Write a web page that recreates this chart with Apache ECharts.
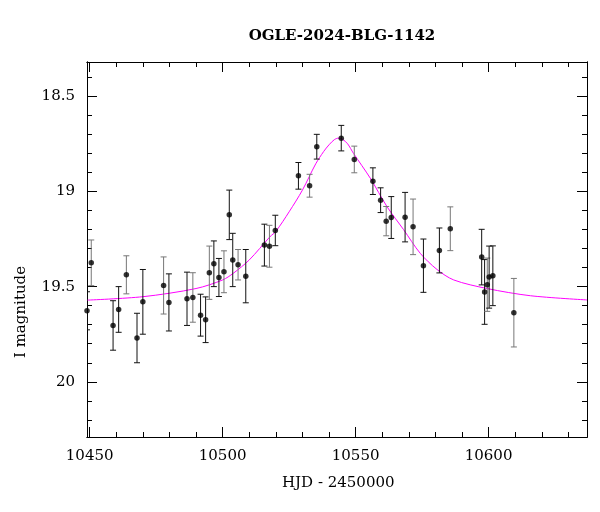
<!DOCTYPE html>
<html><head><meta charset="utf-8">
<script src="https://cdn.jsdelivr.net/npm/echarts@6/dist/echarts.min.js"></script>
<style>html,body{margin:0;padding:0;background:#fff}#c{width:600px;height:512px}</style>
</head><body><div id="c"></div>
<script>
const hjd = [10449,10450.6,10458.8,10460.9,10463.8,10467.8,10470,10477.8,10479.8,10486.6,10488.8,10491.7,10493.6,10495,10496.7,10498.6,10500.5,10502.5,10503.8,10505.8,10508.7,10515.7,10517.6,10519.8,10528.5,10532.7,10535.4,10544.6,10549.5,10556.5,10559.4,10561.5,10563.4,10568.6,10571.6,10575.5,10581.5,10585.6,10597.4,10598.5,10599.5,10600.2,10601.6,10609.5];
const mag = [19.627,19.375,19.704,19.62,19.438,19.77,19.58,19.494,19.583,19.564,19.557,19.65,19.674,19.427,19.38,19.452,19.422,19.123,19.36,19.385,19.445,19.282,19.288,19.205,18.918,18.97,18.765,18.72,18.832,18.946,19.046,19.156,19.137,19.135,19.186,19.39,19.31,19.196,19.345,19.528,19.49,19.45,19.443,19.637];
const magErr = [0.1,0.12,0.13,0.12,0.1,0.13,0.17,0.15,0.15,0.14,0.13,0.11,0.12,0.14,0.12,0.1,0.11,0.13,0.14,0.08,0.14,0.11,0.11,0.08,0.07,0.06,0.065,0.067,0.07,0.07,0.065,0.077,0.11,0.13,0.146,0.14,0.118,0.115,0.146,0.17,0.14,0.163,0.157,0.18];
const modelT = [10449,10470,10490,10500,10504,10510,10517.8,10520,10525,10530,10535,10538,10540,10542,10543.5,10545,10547,10549.2,10555.5,10561.8,10568,10574.3,10580.6,10586.9,10599.4,10615.8,10637];
const modelMag = [19.571,19.553,19.51,19.465,19.43,19.36,19.238,19.21,19.107,18.993,18.855,18.79,18.755,18.728,18.72,18.725,18.75,18.80,18.93,19.08,19.20,19.325,19.41,19.465,19.51,19.548,19.57];
const xMajor = [10450,10500,10550,10600];
const xMinor = [10450,10460,10470,10480,10490,10500,10510,10520,10530,10540,10550,10560,10570,10580,10590,10600,10610,10620,10630];
const yMajor = [18.5,19,19.5,20];
const yMinor = [18.4,18.5,18.6,18.7,18.8,18.9,19,19.1,19.2,19.3,19.4,19.5,19.6,19.7,19.8,19.9,20,20.1,20.2];
const XMIN=10449, XMAX=10637, YMIN=18.32, YMAX=20.29;
const font = "DejaVu Serif";
function xa(pos, vals, len, labels){
  return {type:'value',position:pos,min:XMIN,max:XMAX,splitLine:{show:false},
    axisLine:{show:true,onZero:false,lineStyle:{color:'#000',width:1}},
    axisTick:{show:true,inside:true,length:len,customValues:vals,lineStyle:{color:'#000'}},
    axisLabel:{show:labels,customValues:vals,color:'#000',fontFamily:font,fontSize:15,margin:12,
      formatter:v=>String(v)}};
}
function ya(pos, vals, len, labels){
  return {type:'value',position:pos,inverse:true,min:YMIN,max:YMAX,splitLine:{show:false},
    axisLine:{show:true,onZero:false,lineStyle:{color:'#000',width:1}},
    axisTick:{show:true,inside:true,length:len,customValues:vals,lineStyle:{color:'#000'}},
    axisLabel:{show:labels,customValues:vals,color:'#000',fontFamily:font,fontSize:15,margin:12,
      formatter:v=>String(v)}};
}
const chart = echarts.init(document.getElementById('c'));
const pts = hjd.map((t,i)=>[t,mag[i],magErr[i]]);
chart.setOption({
  animation:false,
  title:{text:'OGLE-2024-BLG-1142',left:337,top:24,textAlign:'center',
    textStyle:{fontFamily:font,fontSize:15,fontWeight:'bold',color:'#000'}},
  grid:{left:87,right:13,top:62,bottom:75},
  xAxis:[xa('bottom',xMajor,10,true),xa('bottom',xMinor,5,false),xa('top',xMajor,10,false),xa('top',xMinor,5,false)],
  yAxis:[ya('left',yMajor,10,true),ya('left',yMinor,5,false),ya('right',yMajor,10,false),ya('right',yMinor,5,false)],
  graphic:[
    {type:'text',left:282,top:476,style:{text:'HJD - 2450000',font:'15px "DejaVu Serif"',fill:'#000'}},
    {type:'text',rotation:Math.PI/2,x:14,y:312,style:{text:'I magnitude',font:'15px "DejaVu Serif"',fill:'#000',textAlign:'center',textVerticalAlign:'top'}}
  ],
  series:[
    {type:'line',data:modelT.map((t,i)=>[t,modelMag[i]]),smooth:0.3,showSymbol:false,
      lineStyle:{color:'#ff00ff',width:1},z:1,clip:true},
    {type:'custom',data:pts,z:2,clip:true,
      renderItem:(params,api)=>{
        const t=api.value(0),m=api.value(1),e=api.value(2);
        const p1=api.coord([t,m-e]),p2=api.coord([t,m+e]);
        const c=params.dataIndex%3===1?'#777':'#111';
        return {type:'group',children:[
          {type:'line',shape:{x1:p1[0],y1:p1[1],x2:p2[0],y2:p2[1]},style:{stroke:c,lineWidth:1}},
          {type:'line',shape:{x1:p1[0]-3,y1:p1[1],x2:p1[0]+3,y2:p1[1]},style:{stroke:c,lineWidth:1}},
          {type:'line',shape:{x1:p2[0]-3,y1:p2[1],x2:p2[0]+3,y2:p2[1]},style:{stroke:c,lineWidth:1}}
        ]};
      }},
    {type:'scatter',data:pts.map(p=>[p[0],p[1]]),symbolSize:5.5,itemStyle:{color:'#000'},z:3}
  ]
});
</script></body></html>
